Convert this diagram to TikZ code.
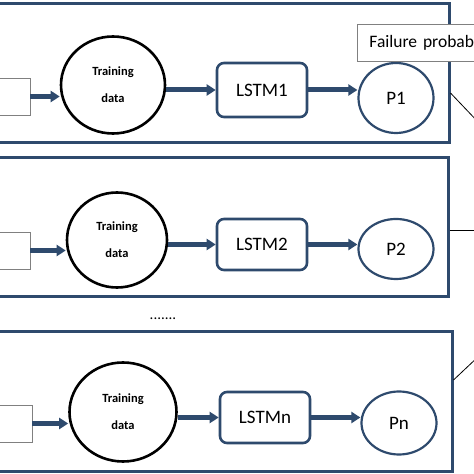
\documentclass[tikz,border=0pt]{standalone}
\usepackage{fontspec}
\setmainfont{Carlito}
\usetikzlibrary{arrows.meta,shapes.geometric}
\definecolor{navy}{HTML}{2E4A6D}
\tikzset{panel/.style={rectangle,draw=navy,line width=3pt},
inbox/.style={rectangle,draw=gray,line width=0.9pt,minimum width=60pt,minimum height=37pt},
datacircle/.style={ellipse,draw=black,line width=2.6pt,inner sep=0pt,align=center,
font=\bfseries\fontsize{12.5}{27}\selectfont},
lstmbox/.style={rectangle,rounded corners=7pt,draw=navy,line width=2.6pt,
minimum width=90pt,font=\fontsize{19}{22}\selectfont},
prob/.style={ellipse,draw=navy,line width=2.2pt,minimum width=75pt,font=\fontsize{19}{22}\selectfont},
flow/.style={navy,line width=5pt,-{Triangle[length=9pt,width=11pt]}},
link/.style={black,line width=0.8pt}}

\begin{document}
\begin{tikzpicture}[x=1pt,y=1pt]
\useasboundingbox (0,0) rectangle (474,474);
\clip (0,0) rectangle (474,474);
% first model
\node[panel,minimum width=469pt,minimum height=139pt] (panel1) at (214.5,400.5) {};
\node[inbox] (in1) at (0,377.5) {};
\node[datacircle,minimum width=104pt,minimum height=97pt] (td1) at (113,389) {Training\\data};
\node[lstmbox,minimum height=54pt] (lstm1) at (262,384) {LSTM1};
\node[prob,minimum height=70pt] (p1) at (396,376) {P1};
\node[draw=gray,fill=white,line width=0.9pt,anchor=west,text width=130pt,inner xsep=12pt,
minimum height=37pt,font=\fontsize{17.5}{21}\selectfont] (fail) at (357,431.5) {Failure probab};
\draw[flow] (in1.east) -- (in1.east -| td1.west);
\draw[flow] (lstm1.west -| td1.east) -- (lstm1.west);
\draw[flow] (lstm1.east) -- (lstm1.east -| p1.west);
\coordinate (o1) at (480,350);
\draw[link] (panel1.east |- 0,381) -- (o1);

% second model
\node[panel,minimum width=468pt,minimum height=139pt] (panel2) at (214,246.5) {};
\node[inbox] (in2) at (0,223.5) {};
\node[datacircle,minimum width=100pt,minimum height=95pt] (td2) at (117,234) {Training\\data};
\node[lstmbox,minimum height=51pt] (lstm2) at (262,229.5) {LSTM2};
\node[prob,minimum height=60pt] (p2) at (396,225) {P2};
\draw[flow] (in2.east) -- (in2.east -| td2.west);
\draw[flow] (lstm2.west -| td2.east) -- (lstm2.west);
\draw[flow] (lstm2.east) -- (lstm2.east -| p2.west);
\coordinate (o2) at (480,244);
\draw[link] (panel2.east |- o2) -- (o2);

\node[font=\fontsize{15}{18}\selectfont] (dots) at (163,155) {.......};

% n-th model
\node[panel,minimum width=472pt,minimum height=140pt] (panel3) at (216,72) {};
\node[inbox] (in3) at (2,50.5) {};
\node[datacircle,minimum width=107pt,minimum height=99pt] (td3) at (123,62) {Training\\data};
\node[lstmbox,minimum height=51pt] (lstm3) at (265,56.5) {LSTMn};
\node[prob,minimum height=63pt] (pn) at (399,51) {Pn};
\draw[flow] (in3.east) -- (in3.east -| td3.west);
\draw[flow] (lstm3.west -| td3.east) -- (lstm3.west);
\draw[flow] (lstm3.east) -- (lstm3.east -| pn.west);
\coordinate (o3) at (480,119);
\draw[link] (panel3.east |- 0,94) -- (o3);
\end{tikzpicture}
\end{document}
